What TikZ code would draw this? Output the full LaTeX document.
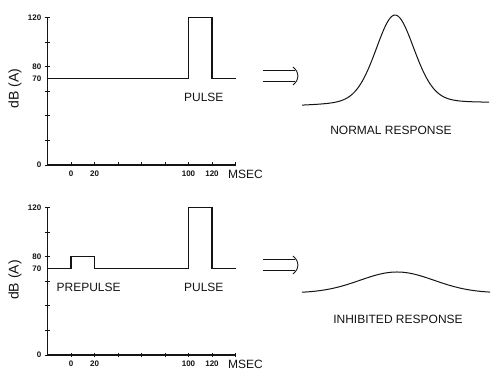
\documentclass[tikz,border=0pt]{standalone}
\usepackage{fontspec}
\setmainfont{Liberation Sans}
\usepackage{tikz}
\usetikzlibrary{positioning, calc}
\definecolor{colInk}{RGB}{20,20,20}

\begin{document}
\begin{tikzpicture}[
  x=1pt, y=-1pt,
  panel/.style={x=1.175pt, y=1.23pt},
  axis/.style={draw=colInk, line width=1.1pt},
  signal/.style={draw=colInk, line width=1.1pt},
  tick/.style={draw=colInk, line width=0.8pt},
  numlab/.style={font=\fontsize{8pt}{9pt}\selectfont\bfseries, text=colInk, inner sep=0pt},
  textlab/.style={font=\fontsize{12pt}{14pt}\selectfont, text=colInk, inner sep=0pt},
  ylab/.style={font=\fontsize{14pt}{16pt}\selectfont, text=colInk, rotate=90, inner sep=0pt},
  resp/.style={draw=colInk, line width=1pt},
  dbl/.style={draw=colInk, line width=0.9pt},
]
\fill[white] (0,0) rectangle (500,387);
\useasboundingbox (0,0) rectangle (500,387);

% ─── TOP PANEL: PULSE ALONE ───────────────────────────────────────────────────
\begin{scope}[shift={(71,165)}, panel]
  \draw[axis] (-20,120) -- (-20,0) -- (140,0);
  \foreach \v in {0,20,...,120} \draw[tick] (-20,\v) ++(-3pt,0) -- ++(5pt,0);
  \foreach \t in {0,20,...,140} \draw[tick] (\t,0) ++(0,-1.5pt) -- ++(0,4pt);
  \draw[signal] (-20,70) -- (100,70) -- (100,120) -- (120,120) -- (120,70) -- (140,70);

  \node[numlab, anchor=east, xshift=-6pt] (tY0) at (-20,0) {0};
  \node[numlab, anchor=east, xshift=-6pt] (tY70) at (-20,70) {70};
  \node[numlab, anchor=east, xshift=-6pt] (tY80) at (-20,80) {80};
  \node[numlab, anchor=east, xshift=-6pt] (tY120) at (-20,120) {120};
  \foreach \t in {0,20,100,120} \node[numlab, anchor=north, yshift=-6pt] (tX\t) at (\t,0) {\t};
  \node[textlab, right=9pt of tX120] (tMsec) {MSEC};
  \node[ylab] (tYlab) at (-47.7,62) {dB (A)};
  \node[textlab] (tPulse) at (113,55) {PULSE};
\end{scope}

% ─── BOTTOM PANEL: PREPULSE + PULSE ───────────────────────────────────────────
\begin{scope}[shift={(71,355)}, panel]
  \draw[axis] (-20,120) -- (-20,0) -- (140,0);
  \foreach \v in {0,20,...,120} \draw[tick] (-20,\v) ++(-3pt,0) -- ++(5pt,0);
  \foreach \t in {0,20,...,140} \draw[tick] (\t,0) ++(0,-1.5pt) -- ++(0,4pt);
  \draw[signal] (-20,70) -- (0,70) -- (0,80) -- (20,80) -- (20,70) -- (100,70)
                -- (100,120) -- (120,120) -- (120,70) -- (140,70);

  \node[numlab, anchor=east, xshift=-6pt] (bY0) at (-20,0) {0};
  \node[numlab, anchor=east, xshift=-6pt] (bY70) at (-20,70) {70};
  \node[numlab, anchor=east, xshift=-6pt] (bY80) at (-20,80) {80};
  \node[numlab, anchor=east, xshift=-6pt] (bY120) at (-20,120) {120};
  \foreach \t in {0,20,100,120} \node[numlab, anchor=north, yshift=-6pt] (bX\t) at (\t,0) {\t};
  \node[textlab, right=9pt of bX120] (bMsec) {MSEC};
  \node[ylab] (bYlab) at (-47.7,61) {dB (A)};
  \node[textlab] (bPrepulse) at (15,55) {PREPULSE};
  \node[textlab] (bPulse) at (113,55) {PULSE};
\end{scope}

% ─── IMPLIES ARROWS ───────────────────────────────────────────────────────────
\coordinate (tArrTail) at (263,76);
\coordinate (tArrTip)  at (295,76);
\coordinate (bArrTail) at (263,265);
\coordinate (bArrTip)  at (295,265);

\draw[dbl, double, double distance=9.6pt] (tArrTail) -- (tArrTip);
\draw[dbl] ($(tArrTip)+(-2,-9)$) .. controls ($(tArrTip)+(2,-5)$) .. ($(tArrTip)+(3,0)$)
           .. controls ($(tArrTip)+(2,5)$) .. ($(tArrTip)+(-2,9)$);
\draw[dbl, double, double distance=9.6pt] (bArrTail) -- (bArrTip);
\draw[dbl] ($(bArrTip)+(-2,-9)$) .. controls ($(bArrTip)+(2,-5)$) .. ($(bArrTip)+(3,0)$)
           .. controls ($(bArrTip)+(2,5)$) .. ($(bArrTip)+(-2,9)$);

% ─── RESPONSES ────────────────────────────────────────────────────────────────
\draw[resp] plot[domain=302:489, samples=150, smooth]
  (\x, {106.5 - 3*(\x-302)/187 - 90*(0.75*exp(-((\x-395)^2)/760.5) + 0.25/(1+(\x-395)^2/576))});
\draw[resp] plot[domain=302:490, samples=150, smooth]
  (\x, {293 - 21*exp(-((\x-397)^2)/2738)});

\node[textlab] (normalLab) at (391,130) {NORMAL RESPONSE};
\node[textlab] (inhibLab)  at (398,319) {INHIBITED RESPONSE};

\end{tikzpicture}
\end{document}
